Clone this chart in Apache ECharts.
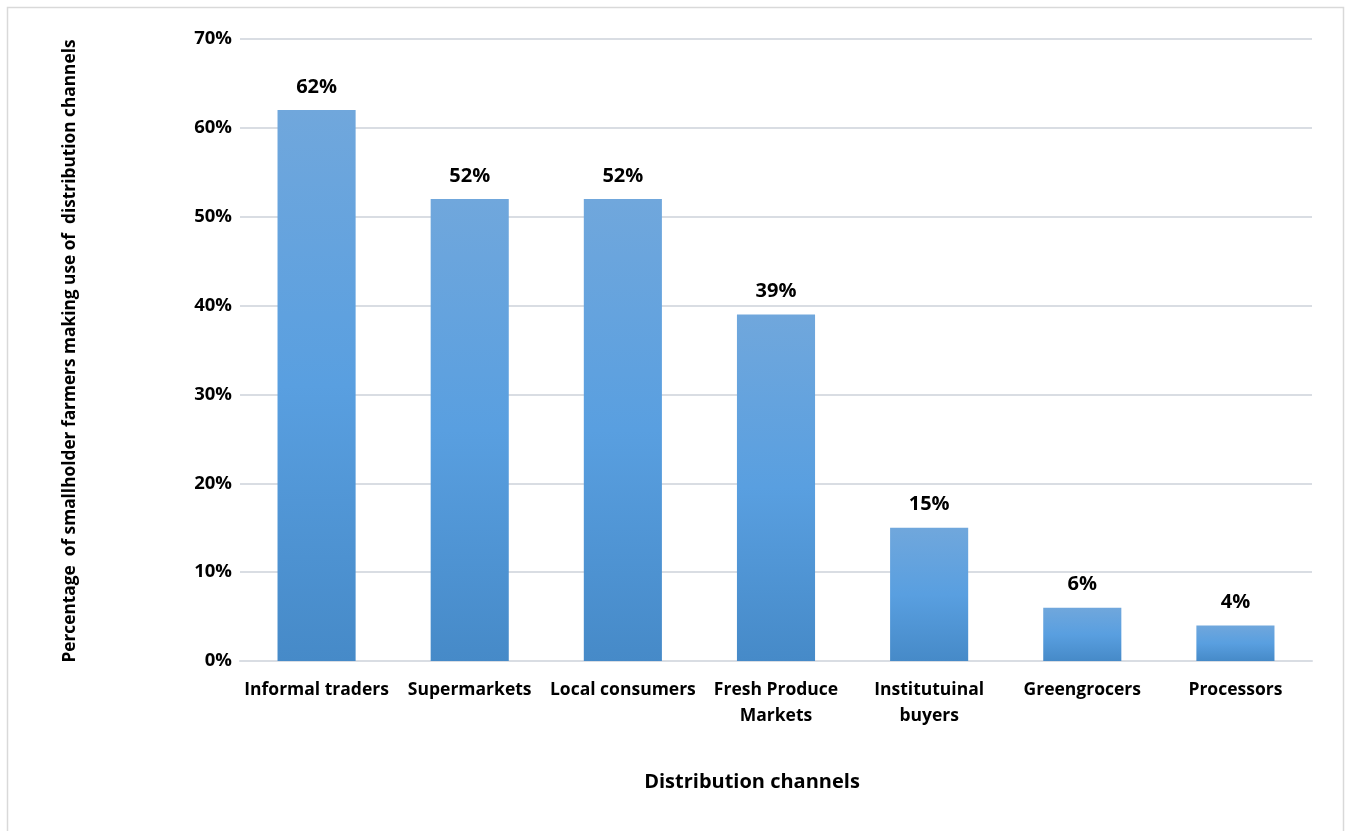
<!DOCTYPE html>
<html><head><meta charset="utf-8">
<script src="https://cdn.jsdelivr.net/npm/echarts@6/dist/echarts.min.js"></script>
<style>html,body{margin:0;padding:0;background:#fff}#c{width:1352px;height:831px}</style>
</head><body><div id="c"></div>
<script>
const categories = ['Informal traders','Supermarkets','Local consumers','Fresh Produce\nMarkets','Institutuinal\nbuyers','Greengrocers','Processors'];
const values = [62, 52, 52, 39, 15, 6, 4];
const yTicks = [0, 10, 20, 30, 40, 50, 60, 70];
const yAxisTitle = 'Percentage  of smallholder farmers making use of  distribution channels';
const xAxisTitle = 'Distribution channels';

const FONT = 'Open Sans';
const chart = echarts.init(document.getElementById('c'), null, {renderer:'canvas'});
chart.setOption({
  animation:false,
  backgroundColor:'#fff',
  graphic:[
    {type:'rect', shape:{x:7.5,y:7.5,width:1336,height:840}, style:{fill:'none', stroke:'#d9d9d9', lineWidth:1.5}, z:-1},
    {type:'text', x:752, y:782, style:{text:xAxisTitle, font:'bold 20px "'+FONT+'"', fill:'#000', align:'center', verticalAlign:'middle'}},
    {type:'text', x:70, y:351, rotation:Math.PI/2, style:{text:yAxisTitle, font:'bold 17.3px "'+FONT+'"', fill:'#000', align:'center', verticalAlign:'middle'}}
  ],
  grid:{left:240, right:40, top:39, bottom:170, containLabel:false},
  xAxis:{type:'category', data:categories,
    axisLine:{lineStyle:{color:'#d9dde3', width:2}}, axisTick:{show:false},
    axisLabel:{color:'#000', fontFamily:FONT, fontWeight:'bold', fontSize:17.5, margin:16, lineHeight:26, interval:0}},
  yAxis:{type:'value', min:yTicks[0], max:yTicks[yTicks.length-1], interval:10,
    axisLine:{show:false}, axisTick:{show:false},
    splitLine:{lineStyle:{color:'#d9dde3', width:2}},
    axisLabel:{color:'#000', fontFamily:FONT, fontWeight:'bold', fontSize:18.5, margin:8, formatter:v=>v+'%'}},
  series:[{type:'bar', data:values, barWidth:'51%',
    itemStyle:{color:new echarts.graphic.LinearGradient(0,0,0,1,[
      {offset:0,color:'#70a7dc'},{offset:0.5,color:'#599fe0'},{offset:1,color:'#468ac8'}])},
    label:{show:true, position:'top', distance:13, formatter:p=>p.value+'%', color:'#000', fontFamily:FONT, fontWeight:'bold', fontSize:20}}]
});
</script></body></html>
